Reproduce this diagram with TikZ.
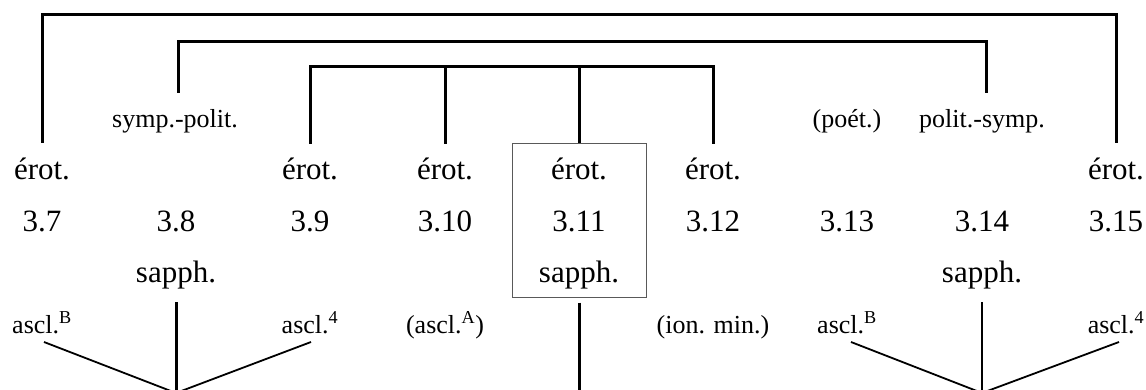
\documentclass[tikz,border=0pt]{standalone}
\usepackage{fontspec}
\setmainfont{Liberation Serif}
\begin{document}
\begin{tikzpicture}[x=1pt,y=-1pt,
  big/.style={font=\fontsize{31}{36}\selectfont, inner sep=0pt, anchor=base},
  small/.style={font=\fontsize{26}{30}\selectfont, inner sep=0pt, anchor=base},
  br/.style={line width=3pt, line join=miter},
  thinline/.style={line width=1.8pt},
  frame/.style={draw=black!65, line width=1pt, inner sep=0pt, minimum width=134pt, minimum height=153pt}]
\useasboundingbox (0,0) rectangle (1146,390);
\clip (0,0) rectangle (1146,390);
% frame around 3.11
\node[frame] (box) at (579,220.5) {};
% row of érot.
\node[big] (e7)  at (42,180)   {érot.};
\node[big] (e9)  at (310,180)  {érot.};
\node[big] (e10) at (445,180)  {érot.};
\node[big] (e11) at (579,180)  {érot.};
\node[big] (e12) at (713,180)  {érot.};
\node[big] (e15) at (1116,180) {érot.};
% numbers
\node[big] (n7)  at (42,232)   {3.7};
\node[big] (n8)  at (176,232)  {3.8};
\node[big] (n9)  at (310,232)  {3.9};
\node[big] (n10) at (445,232)  {3.10};
\node[big] (n11) at (579,232)  {3.11};
\node[big] (n12) at (713,232)  {3.12};
\node[big] (n13) at (847,232)  {3.13};
\node[big] (n14) at (982,232)  {3.14};
\node[big] (n15) at (1116,232) {3.15};
% sapph.
\node[big] (s8)  at (176,283) {sapph.};
\node[big] (s11) at (579,283) {sapph.};
\node[big] (s14) at (982,283) {sapph.};
% small labels, upper
\node[small] (sp) at (175,128) {symp.-polit.};
\node[small] (po) at (847,128) {(poét.)};
\node[small] (ps) at (982,128) {polit.-symp.};
% small labels, lower
\node[small] (a8l)  at (42,333)   {ascl.\textsuperscript{B}};
\node[small] (a8r)  at (310,333)  {ascl.\textsuperscript{4}};
\node[small] (a10)  at (445,333)  {(ascl.\textsuperscript{A})};
\node[small] (im)   at (713,333)  {(ion. min.)};
\node[small] (a14l) at (847,333)  {ascl.\textsuperscript{B}};
\node[small] (a14r) at (1116,333) {ascl.\textsuperscript{4}};
% bracket coordinates
\coordinate (t1) at (579,15);
\coordinate (t2) at (579,42);
\coordinate (t3) at (579,67);
\coordinate (m8)  at (176,393);
\coordinate (m11) at (579,393);
\coordinate (m14) at (982,393);
% brackets
\draw[br] ([yshift=37pt]e7.base) |- (t1) -| ([yshift=37pt]e15.base);
\draw[br] ([xshift=3pt,yshift=35pt]sp.base) |- (t2) -| ([xshift=4pt,yshift=35pt]ps.base);
\draw[br] ([yshift=36pt]e9.base) |- (t3) -| ([yshift=36pt]e12.base);
\draw[br] ([yshift=36pt]e10.base) -- (e10.base |- t3);
\draw[br] (t3) -- (box.north);
% lower trees
\draw[br] ([yshift=-19pt]s8.base) -- (m8);
\draw[thinline] ([xshift=2pt,yshift=-9pt]a8l.base) -- (m8);
\draw[thinline] ([xshift=1pt,yshift=-9pt]a8r.base) -- (m8);
\draw[br] ([yshift=-5pt]box.south) -- (m11);
\draw[thinline] ([yshift=-19pt]s14.base) -- (m14);
\draw[thinline] ([xshift=4pt,yshift=-9pt]a14l.base) -- (m14);
\draw[thinline] ([xshift=3pt,yshift=-9pt]a14r.base) -- (m14);
\end{tikzpicture}
\end{document}
